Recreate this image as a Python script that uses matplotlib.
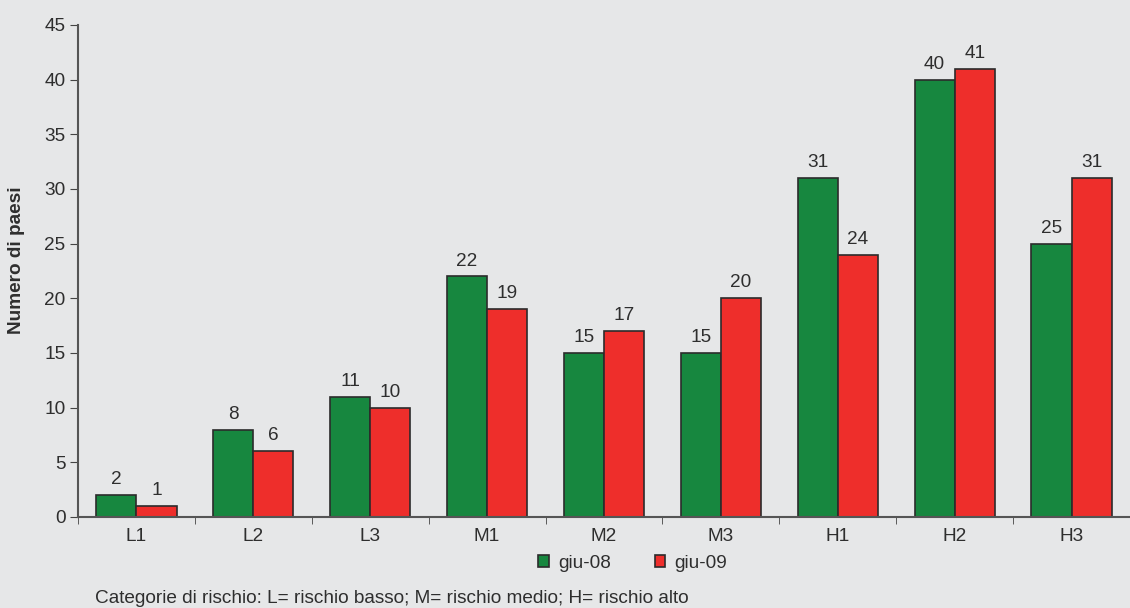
import numpy as np
import matplotlib.pyplot as plt

plt.rcParams['font.family'] = ['Liberation Sans', 'DejaVu Sans']

categorie = ['L1', 'L2', 'L3', 'M1', 'M2', 'M3', 'H1', 'H2', 'H3']
giu08 = [2, 8, 11, 22, 15, 15, 31, 40, 25]
giu09 = [1, 6, 10, 19, 17, 20, 24, 41, 31]

bg = '#e6e7e8'
verde = '#17873f'
rosso = '#ee2e2b'
testo = '#2e2e2e'
fs = 13.7

fig = plt.figure(figsize=(11.3, 6.08), dpi=100, facecolor=bg)
ax = fig.add_axes([0.069, 0.1497, 0.931, 0.8092], facecolor=bg)

x = np.arange(len(categorie))
w = 0.343
b1 = ax.bar(x - w / 2, giu08, w, color=verde, edgecolor='#2b2b2b', linewidth=1.2, label='giu-08')
b2 = ax.bar(x + w / 2, giu09, w, color=rosso, edgecolor='#2b2b2b', linewidth=1.2, label='giu-09')

for bars in (b1, b2):
    for r in bars:
        ax.annotate(str(int(r.get_height())), (r.get_x() + r.get_width() / 2, r.get_height()),
                    xytext=(0, 5), textcoords='offset points', ha='center', va='bottom',
                    fontsize=fs, color=testo)

ax.set_xlim(-0.5, 8.42)
ax.set_ylim(0, 45)
ax.set_yticks(range(0, 46, 5))
ax.set_xticks(x)
ax.set_xticklabels(categorie)
ax.set_xticks(np.arange(-0.5, 9, 1), minor=True)
ax.tick_params(axis='x', which='major', length=0, pad=8, labelsize=fs, colors=testo)
ax.tick_params(axis='x', which='minor', length=5, direction='out', color='#444444')
ax.tick_params(axis='y', length=6, direction='out', pad=3, labelsize=fs, colors=testo, color='#444444')

for s in ['top', 'right']:
    ax.spines[s].set_visible(False)
for s in ['left', 'bottom']:
    ax.spines[s].set_color('#555555')
    ax.spines[s].set_linewidth(1.5)

fig.text(0.015, 0.572, 'Numero di paesi', rotation=90, fontsize=fs, fontweight='bold',
         color=testo, ha='center', va='center')

fig.legend(loc='center', bbox_to_anchor=(0.56, 0.074), ncol=2, frameon=False,
           fontsize=fs, handlelength=0.55, handleheight=0.55, columnspacing=2.3,
           handletextpad=0.5, labelcolor=testo)

fig.text(0.084, 0.016, 'Categorie di rischio: L= rischio basso; M= rischio medio; H= rischio alto',
         fontsize=fs, color=testo, va='center')

fig.savefig('out.png', dpi=100, facecolor=bg)
